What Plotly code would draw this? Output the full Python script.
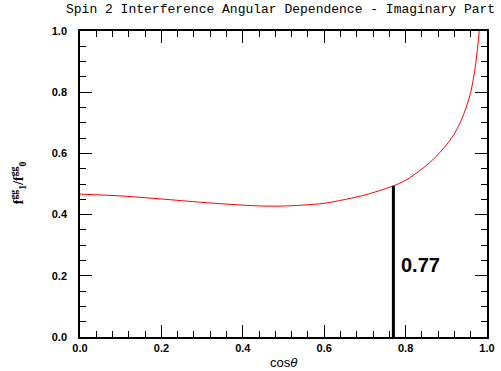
import plotly.graph_objects as go

# cos(theta) sample points and the imaginary-part ratio f1/f0
cos_theta = [0.0, 0.1, 0.2, 0.3, 0.4, 0.45, 0.5, 0.6, 0.7, 0.735, 0.77, 0.8, 0.842,
             0.875, 0.913, 0.934, 0.95, 0.96, 0.971, 0.981, 0.99]
ratio = [0.467, 0.461, 0.451, 0.440, 0.431, 0.428, 0.428, 0.437, 0.464, 0.478, 0.494,
         0.512, 0.551, 0.590, 0.650, 0.700, 0.755, 0.800, 0.880, 1.000, 1.120]

marker_x = 0.77
marker_y = 0.494
marker_label = "0.77"

x_ticks = [0.0, 0.2, 0.4, 0.6, 0.8, 1.0]
y_ticks = [0.0, 0.2, 0.4, 0.6, 0.8, 1.0]

fig = go.Figure()
fig.add_trace(go.Scatter(x=cos_theta, y=ratio, mode="lines", line_shape="spline",
                         line=dict(color="red", width=1, smoothing=0.8), showlegend=False))
fig.add_trace(go.Scatter(x=[marker_x, marker_x], y=[0, marker_y], mode="lines",
                         line=dict(color="black", width=3), showlegend=False))

fig.add_annotation(x=0.784, y=0.235, xref="x", yref="y", text="<b>" + marker_label + "</b>",
                   showarrow=False, xanchor="left", yanchor="middle",
                   font=dict(family="Liberation Sans, Arial", size=20, color="black"))

# rotated y-axis label
fig.add_annotation(x=-0.152, y=0.503, xref="paper", yref="paper", xanchor="center", yanchor="middle",
                   text="<b>f<sup>gg</sup><sub>1</sub>/f<sup>gg</sup><sub>0</sub></b>",
                   textangle=-90, showarrow=False,
                   font=dict(family="Liberation Serif", size=14, color="black"))

# x-axis label
fig.add_annotation(x=0.5, y=-0.082, xref="paper", yref="paper", xanchor="center", yanchor="middle",
                   text="cos<i>θ</i>", showarrow=False,
                   font=dict(family="Liberation Sans", size=13, color="black"))

axis_common = dict(ticks="inside", ticklen=12, tickwidth=1, tickcolor="black",
                   showline=True, linecolor="black", linewidth=1.5, mirror="ticks",
                   showgrid=False, zeroline=False, automargin=False,
                   tickfont=dict(family="Liberation Sans", size=11, color="black", weight="bold"))

fig.update_xaxes(range=[0, 1], tickvals=x_ticks, ticktext=[f"{v:.1f}" for v in x_ticks],
                 minor=dict(dtick=0.04, ticks="inside", ticklen=6, tickcolor="black", showgrid=False),
                 ticklabelstandoff=0, **axis_common)
fig.update_yaxes(range=[0, 1], tickvals=y_ticks, ticktext=[f"{v:.1f}" for v in y_ticks],
                 minor=dict(dtick=0.05, ticks="inside", ticklen=6, tickcolor="black", showgrid=False),
                 ticklabelstandoff=9, **axis_common)

fig.update_layout(
    width=501, height=371,
    margin=dict(l=80, r=14, t=31, b=34),
    plot_bgcolor="white", paper_bgcolor="white",
    title=dict(text="Spin 2 Interference Angular Dependence - Imaginary Part",
               x=0.56, xanchor="center", y=0.977, yanchor="middle",
               font=dict(family="Liberation Mono", size=13, color="black")),
)

fig.write_html("out.html")
